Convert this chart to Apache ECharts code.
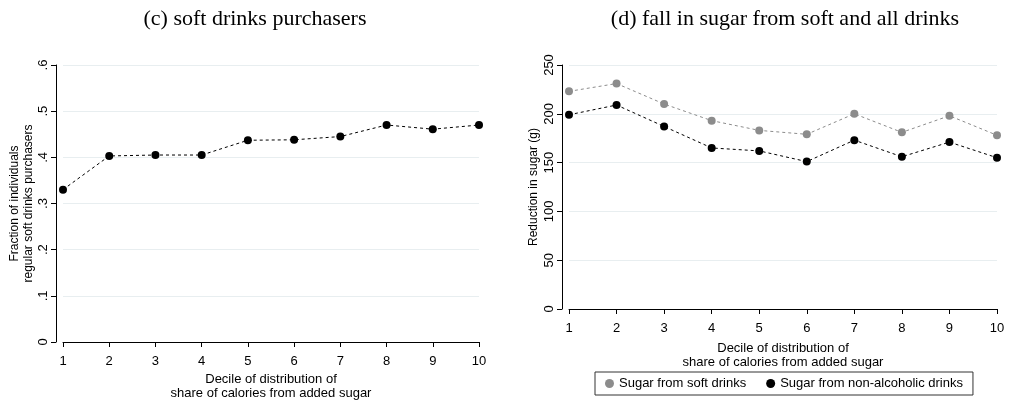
<!DOCTYPE html>
<html><head><meta charset="utf-8">
<script src="https://cdn.jsdelivr.net/npm/echarts@6/dist/echarts.min.js"></script>
<style>html,body{margin:0;background:#fff}#c{width:1009px;height:403px}</style>
</head><body><div id="c"></div>
<script>
const deciles = [1,2,3,4,5,6,7,8,9,10];
const purchasers = [0.330,0.403,0.405,0.405,0.437,0.438,0.445,0.470,0.461,0.470];
const softSugar = [223,231,210,193,183,179,200,181,198,178];
const nonAlcSugar = [199,209,187,165,162,151,173,156,171,155];
const leftYLabels = {0:'0',1:'.1',2:'.2',3:'.3',4:'.4',5:'.5',6:'.6'};

const F = 'Liberation Sans, Arial, sans-serif';
const chart = echarts.init(document.getElementById('c'));
const xName = 'Decile of distribution of\nshare of calories from added sugar';
function xAx(gi,gap){return {type:'value',gridIndex:gi,min:1,max:10,interval:1,offset:8,
  name:xName,nameLocation:'middle',nameGap:gap,nameTextStyle:{fontFamily:F,fontSize:13,color:'#000',lineHeight:14},
  axisLine:{lineStyle:{color:'#000',width:1}},axisTick:{length:5,lineStyle:{color:'#000'}},
  axisLabel:{fontFamily:F,fontSize:13,color:'#000',margin:5},splitLine:{show:false}};}
function yAx(gi,max,interval,name,gap,fmt){return {type:'value',gridIndex:gi,min:0,max:max,interval:interval,offset:7,
  name:name,nameLocation:'middle',nameGap:gap,nameTextStyle:{fontFamily:F,fontSize:12,color:'#000',lineHeight:14},
  axisLine:{show:true,lineStyle:{color:'#000',width:1}},axisTick:{show:true,length:5,lineStyle:{color:'#000'}},
  axisLabel:{fontFamily:F,fontSize:13,color:'#000',rotate:90,margin:6,formatter:fmt},
  splitLine:{show:true,lineStyle:{color:'#e8eef0',width:1}}};}
const ptsL = deciles.map((d,i)=>[d,purchasers[i]]);
const ptsS = deciles.map((d,i)=>[d,softSugar[i]]);
const ptsN = deciles.map((d,i)=>[d,nonAlcSugar[i]]);
chart.setOption({
  animation:false,
  title:[
    {text:'(c) soft drinks purchasers',left:250,top:3,textAlign:'center',textStyle:{fontFamily:'Liberation Serif',fontSize:22,fontWeight:'normal',color:'#000'}},
    {text:'(d) fall in sugar from soft and all drinks',left:780,top:3,textAlign:'center',textStyle:{fontFamily:'Liberation Serif',fontSize:22,fontWeight:'normal',color:'#000'}}
  ],
  grid:[{left:63,right:530,top:65,bottom:61,outerBoundsMode:'none'},{left:569,right:12,top:65,bottom:94,outerBoundsMode:'none'}],
  xAxis:[xAx(0,22),xAx(1,24)],
  yAxis:[yAx(0,0.6,0.1,'Fraction of individuals\nregular soft drinks purchasers',19,v=>leftYLabels[Math.round(v*10)]),
         yAx(1,250,50,'Reduction in sugar (g)',21)],
  legend:{left:595,top:372,width:400,orient:'horizontal',itemWidth:9,itemHeight:9,itemGap:20,icon:'circle',
    borderColor:'#333',borderWidth:1,padding:[5,10,5,10],
    textStyle:{fontFamily:F,fontSize:13,color:'#000'},
    data:['Sugar from soft drinks','Sugar from non-alcoholic drinks']},
  series:[
    {type:'line',xAxisIndex:0,yAxisIndex:0,data:ptsL,symbol:'circle',symbolSize:8,itemStyle:{color:'#000'},lineStyle:{color:'#000',width:1,type:[3,3]}},
    {name:'Sugar from soft drinks',type:'line',xAxisIndex:1,yAxisIndex:1,data:ptsS,symbol:'circle',symbolSize:8,itemStyle:{color:'#8c8c8c'},lineStyle:{color:'#8c8c8c',width:1,type:[3,3]}},
    {name:'Sugar from non-alcoholic drinks',type:'line',xAxisIndex:1,yAxisIndex:1,data:ptsN,symbol:'circle',symbolSize:8,itemStyle:{color:'#000'},lineStyle:{color:'#000',width:1,type:[3,3]}}
  ]
});
</script></body></html>
